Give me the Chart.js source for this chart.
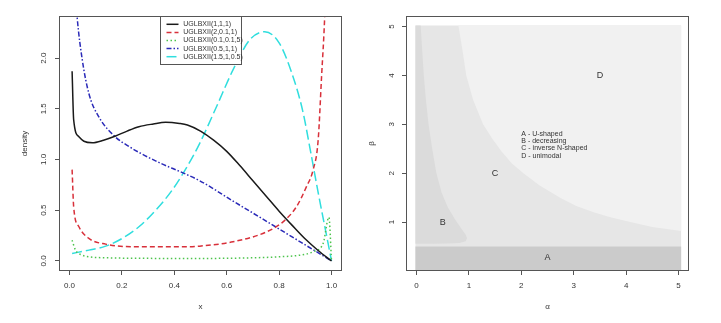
<!DOCTYPE html>
<html><head><meta charset="utf-8">
<script src="https://cdn.jsdelivr.net/npm/chart.js@4/dist/chart.umd.min.js"></script>
<style>
html,body{margin:0;padding:0;background:#fff;}
#wrap{position:relative;width:721px;height:323px;overflow:hidden;}
canvas{position:absolute;top:0;}
#c1{left:0;} #c2{left:360px;}
</style></head><body>
<div id="wrap"><canvas id="c1" width="360" height="323"></canvas><canvas id="c2" width="361" height="323"></canvas></div>
<script>
// ---------------- Left panel data: densities ----------------
const seriesNames = ['UGLBXII(1,1,1)','UGLBXII(2,0.1,1)','UGLBXII(0.1,0.1,5)','UGLBXII(0.5,1,1)','UGLBXII(1.5,1,0.5)'];

const x111 = [0.01,0.016,0.036,0.055,0.087,0.13,0.176,0.22,0.265,0.32,0.367,0.42,0.45,0.5,0.55,0.6,0.65,0.7,0.75,0.8,0.85,0.9,0.95,1.0];
const y111 = [1.87,1.39,1.224,1.18,1.165,1.19,1.231,1.28,1.323,1.35,1.366,1.355,1.34,1.28,1.19,1.08,0.94,0.79,0.64,0.49,0.35,0.215,0.10,0.0];

const x2011 = [0.01,0.016,0.036,0.074,0.138,0.265,0.456,0.497,0.624,0.752,0.815,0.866,0.904,0.93,0.949,0.962,0.974,0.985,0.995];
const y2011 = [0.90,0.533,0.336,0.221,0.165,0.138,0.138,0.145,0.188,0.286,0.385,0.533,0.73,0.9,1.19,1.816,2.41,3.3,4.5];

const x01015 = [0.01,0.023,0.045,0.074,0.15,0.27,0.497,0.7,0.8,0.879,0.929,0.968,0.99,1.0];
const y01015 = [0.204,0.106,0.06,0.04,0.03,0.025,0.024,0.03,0.04,0.056,0.089,0.172,0.43,0.0];

const x0511 = [0.01,0.02,0.029,0.049,0.074,0.112,0.176,0.22,0.265,0.35,0.431,0.497,0.624,0.752,0.879,1.0];
const y0511 = [3.4,2.75,2.41,1.98,1.65,1.42,1.22,1.14,1.07,0.96,0.87,0.79,0.59,0.39,0.19,0.0];

const x15105 = [0.01,0.074,0.138,0.201,0.265,0.329,0.392,0.456,0.497,0.561,0.624,0.688,0.745,0.80,0.85,0.89,0.92,0.95,0.975,1.0];
const y15105 = [0.073,0.106,0.145,0.221,0.336,0.50,0.698,0.961,1.159,1.52,1.883,2.18,2.26,2.15,1.84,1.48,1.08,0.66,0.33,0.0];

const leftXTicks = [0,0.2,0.4,0.6,0.8,1.0];
const leftXLabels = ['0.0','0.2','0.4','0.6','0.8','1.0'];
const leftYTicks = [0,0.5,1.0,1.5,2.0];
const leftYLabels = ['0.0','0.5','1.0','1.5','2.0'];

// ---------------- Right panel data: shape regions in (alpha, beta) ----------------
const regionCAlpha = [-0.02,-0.02,5.05,5.05];
const regionCBeta  = [0.02,5.02,5.02,0.02];

const regionDAlpha = [0.80,0.88,0.95,1.08,1.27,1.45,1.62,1.82,2.04,2.35,2.74,3.05,3.38,3.70,4.08,4.50,5.05,5.05];
const regionDBeta  = [5.02,4.5,4.0,3.5,3.0,2.7,2.45,2.2,2.0,1.75,1.5,1.33,1.2,1.1,1.0,0.9,0.82,5.02];

const regionBAlpha = [-0.02,0.08,0.11,0.14,0.18,0.23,0.30,0.38,0.48,0.60,0.74,0.86,0.94,0.965,0.94,0.82,0.60,0.30,-0.02];
const regionBBeta  = [5.02,5.02,4.5,4.0,3.5,3.0,2.5,2.0,1.6,1.3,1.05,0.86,0.74,0.67,0.61,0.575,0.56,0.555,0.555];

const regionAAlpha = [-0.02,-0.02,5.05,5.05];
const regionABeta  = [0.02,0.5,0.5,0.02];

const regionLetters = ['A','B','C','D'];
const letterAlpha = [2.5,0.5,1.5,3.5];
const letterBeta  = [0.27,1.0,2.0,4.0];

const keyLines = ['A - U-shaped','B - decreasing','C - inverse N-shaped','D - unimodal'];
const keyAlpha = 2.0;
const keyBeta = 2.81;

const rightXTicks = [0,1,2,3,4,5];
const rightXLabels = ['0','1','2','3','4','5'];
const rightYTicks = [1,2,3,4,5];
const rightYLabels = ['1','2','3','4','5'];

// ---------------- helpers ----------------
Chart.defaults.font.family = "'Liberation Sans', Arial, sans-serif";
Chart.defaults.color = '#333';
const pts = (xs, ys) => xs.map((v,i)=>({x:v,y:ys[i]}));

function axisCfg(o){
  return {
    type:'linear', min:o.min, max:o.max,
    afterBuildTicks: s => { s.ticks = o.ticks.map(v=>({value:v})); },
    afterFit: s => { if (o.w!=null) s.width=o.w; if (o.h!=null) s.height=o.h; },
    ticks: { callback: (v,i)=>o.labels[i], font:{size:8}, color:'#333', padding:o.pad,
             minRotation:o.rot||0, maxRotation:o.rot||0, crossAlign:o.cross||'near', autoSkip:false },
    grid: { display:true, drawOnChartArea:false, drawTicks:true, tickLength:4, color:'#555', lineWidth:1 },
    border: { display:false },
    title: { display:true, text:o.title, font:{size:8}, color:'#333', padding:o.tpad }
  };
}

const framePlugin = {
  id:'frame',
  afterDraw(chart){
    const {ctx, chartArea:a} = chart;
    ctx.save();
    ctx.strokeStyle = '#555'; ctx.lineWidth = 1;
    ctx.strokeRect(Math.round(a.left)+0.5, Math.round(a.top)+0.5, Math.round(a.right-a.left)-1, Math.round(a.bottom-a.top)-1);
    ctx.restore();
  }
};

// ---------------- left chart ----------------
const lineStyles = [
  {color:'#1a1a1a', dash:[]},
  {color:'#d8303a', dash:[5,3]},
  {color:'#4cc44c', dash:[1.5,2.5]},
  {color:'#2a2ab8', dash:[5,2,1.5,2]},
  {color:'#30dede', dash:[10,4]}
];
const leftData = [pts(x111,y111), pts(x2011,y2011), pts(x01015,y01015), pts(x0511,y0511), pts(x15105,y15105)];

const legendPlugin = {
  id:'boxLegend',
  afterDraw(chart){
    const {ctx, chartArea:a} = chart;
    const cx = Math.round((a.left+a.right)/2);
    const w = 81, h = 48;
    const left = cx - Math.round(w/2), top = Math.round(a.top);
    ctx.save();
    ctx.fillStyle = '#fff';
    ctx.fillRect(left, top, w, h);
    ctx.strokeStyle = '#555'; ctx.lineWidth = 1;
    ctx.strokeRect(left+0.5, top+0.5, w, h);
    ctx.font = "7px 'Liberation Sans', Arial, sans-serif";
    ctx.textBaseline = 'middle'; ctx.textAlign = 'left';
    for (let i=0;i<seriesNames.length;i++){
      const y = top + 8.3 + i*8.1;
      ctx.strokeStyle = lineStyles[i].color; ctx.lineWidth = 1.5;
      ctx.setLineDash(lineStyles[i].dash);
      ctx.beginPath(); ctx.moveTo(left+6.5, y); ctx.lineTo(left+18.5, y); ctx.stroke();
      ctx.setLineDash([]);
      ctx.fillStyle = '#333';
      ctx.fillText(seriesNames[i], left+23.3, y);
    }
    ctx.restore();
  }
};

new Chart(document.getElementById('c1'), {
  type:'line',
  data:{ datasets: leftData.map((d,i)=>({
    label: seriesNames[i], data:d, borderColor:lineStyles[i].color, borderDash:lineStyles[i].dash,
    borderWidth:1.5, pointRadius:0, fill:false, cubicInterpolationMode:'monotone', clip:0
  }))},
  options:{
    responsive:false, animation:false, devicePixelRatio:1,
    layout:{ padding:{left:0, top:16, right:18, bottom:0} },
    plugins:{ legend:{display:false}, tooltip:{enabled:false} },
    scales:{
      x: axisCfg({min:-0.04, max:1.04, ticks:leftXTicks, labels:leftXLabels, h:52, pad:6, title:'x', tpad:{top:0,bottom:11}}),
      y: axisCfg({min:-0.1, max:2.415, ticks:leftYTicks, labels:leftYLabels, w:59, pad:6, rot:90, cross:'center', title:'density', tpad:{top:20,bottom:0}})
    }
  },
  plugins:[framePlugin, legendPlugin]
});

// ---------------- right chart ----------------
const regionColors = {A:'#cbcbcb', B:'#dbdbdb', C:'#e6e6e6', D:'#f1f1f1'};
function region(xs, ys, color, order){
  return { data: pts(xs, ys), showLine:true, fill:'shape', backgroundColor:color, borderColor:'rgba(0,0,0,0)',
           borderWidth:0, pointRadius:0, tension:0, order:order, clip:0 };
}

const annotPlugin = {
  id:'annot',
  afterDatasetsDraw(chart){
    const {ctx, scales:{x, y}} = chart;
    ctx.save();
    ctx.fillStyle = '#333';
    ctx.textAlign = 'center'; ctx.textBaseline = 'middle';
    ctx.font = "9px 'Liberation Sans', Arial, sans-serif";
    regionLetters.forEach((t,i)=>ctx.fillText(t, x.getPixelForValue(letterAlpha[i]), y.getPixelForValue(letterBeta[i])));
    ctx.font = "7px 'Liberation Sans', Arial, sans-serif";
    ctx.textAlign = 'left';
    const kx = x.getPixelForValue(keyAlpha), ky = y.getPixelForValue(keyBeta);
    keyLines.forEach((t,i)=>ctx.fillText(t, kx, ky + i*7.4));
    ctx.restore();
  }
};

new Chart(document.getElementById('c2'), {
  type:'scatter',
  data:{ datasets:[
    region(regionAAlpha, regionABeta, regionColors.A, 0),
    region(regionBAlpha, regionBBeta, regionColors.B, 1),
    region(regionDAlpha, regionDBeta, regionColors.D, 2),
    region(regionCAlpha, regionCBeta, regionColors.C, 3)
  ]},
  options:{
    indexAxis:'y',
    responsive:false, animation:false, devicePixelRatio:1,
    layout:{ padding:{left:0, top:16, right:32, bottom:0} },
    plugins:{ legend:{display:false}, tooltip:{enabled:false} },
    scales:{
      x: axisCfg({min:-0.2, max:5.2, ticks:rightXTicks, labels:rightXLabels, h:52, pad:6, title:'α', tpad:{top:0,bottom:11}}),
      y: axisCfg({min:0, max:5.215, ticks:rightYTicks, labels:rightYLabels, w:46, pad:8, rot:90, cross:'center', title:'β', tpad:{top:7,bottom:0}})
    }
  },
  plugins:[annotPlugin, framePlugin]
});
</script>
</body></html>
